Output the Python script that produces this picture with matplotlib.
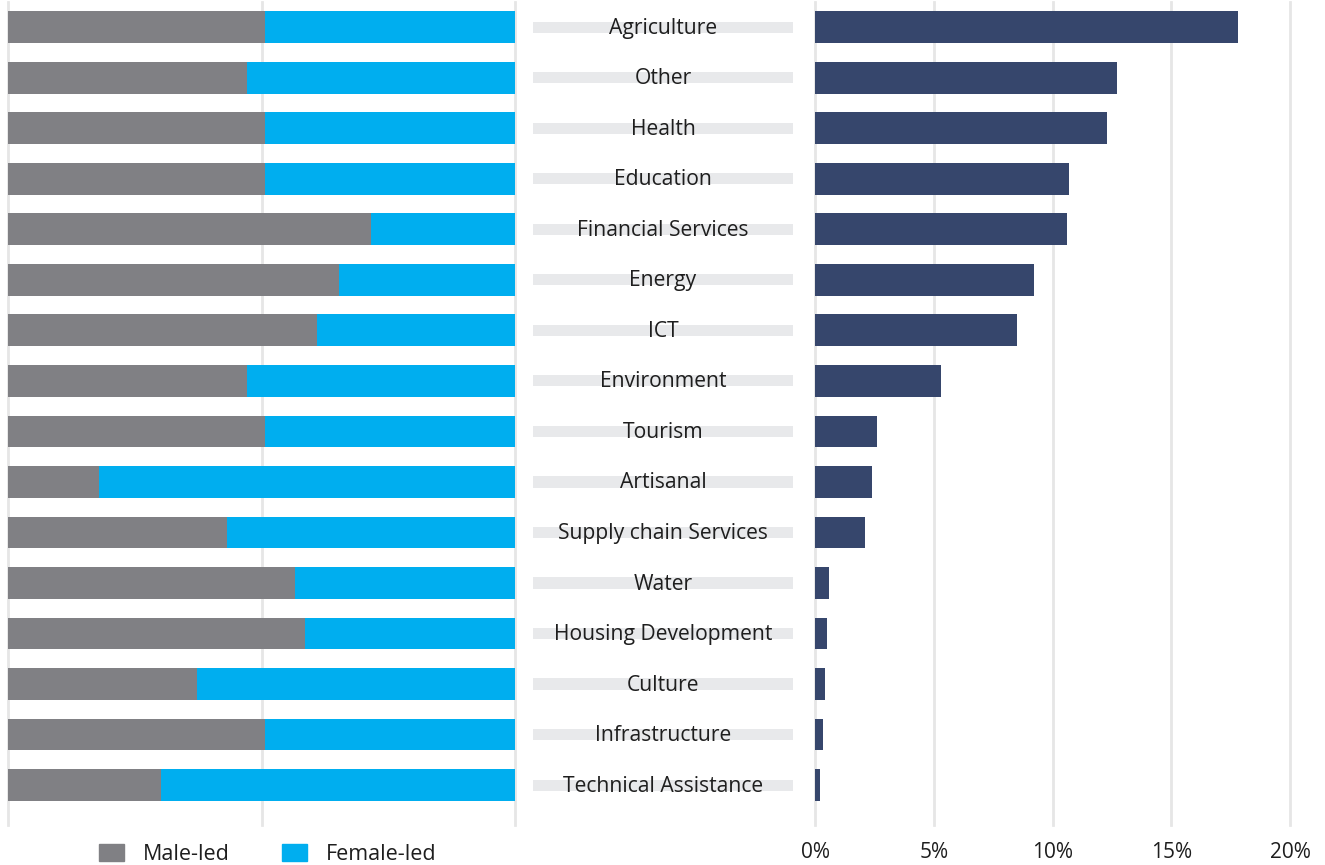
import numpy as np
import matplotlib.pyplot as plt
from matplotlib.patches import Patch

plt.rcParams['font.family'] = ['Open Sans', 'DejaVu Sans']

sectors = ['Agriculture', 'Other', 'Health', 'Education', 'Financial Services',
           'Energy', 'ICT', 'Environment', 'Tourism', 'Artisanal',
           'Supply chain Services', 'Water', 'Housing Development', 'Culture',
           'Infrastructure', 'Technical Assistance']
# share of male-led businesses per sector (%), female-led is the rest
male_share = [50.7, 47.1, 50.7, 50.7, 71.6, 65.3, 60.9, 47.1, 50.7, 17.9,
              43.2, 56.6, 58.6, 37.3, 50.7, 30.2]
# share of all businesses in each sector (%)
sector_share = [17.8, 12.7, 12.3, 10.7, 10.6, 9.2, 8.5, 5.3, 2.6, 2.4,
                2.1, 0.6, 0.5, 0.4, 0.35, 0.2]
share_ticks = [0, 5, 10, 15, 20]

male_share = np.array(male_share)
female_share = 100 - male_share

grey = '#808084'
blue = '#00aeef'
navy = '#36466c'
grid = '#e6e6e6'
txt = '#1e1e1e'

fig = plt.figure(figsize=(13.25, 8.65), dpi=100)
W, H = 1325, 865
bot = 40 / H
hgt = 823 / H
y = np.arange(len(sectors))
ylim = (15.79, -0.5)

# left: 100% stacked
axl = fig.add_axes([8 / W, bot, 507 / W, hgt])
axl.barh(y, male_share, height=0.63, color=grey, zorder=2)
axl.barh(y, female_share, left=male_share, height=0.63, color=blue, zorder=2)
axl.set_xlim(0, 100)
axl.set_ylim(*ylim)
for v in [0, 50, 100]:
    axl.axvline(v, color=grid, lw=2, zorder=1, clip_on=False)
axl.axis('off')

# middle: labels on a grey band
axm = fig.add_axes([533 / W, bot, 260 / W, hgt])
axm.barh(y, [1] * len(sectors), height=0.22, color='#e8e9eb')
for i, s in enumerate(sectors):
    axm.text(0.5, i + 0.02, s, ha='center', va='center', fontsize=15.2, color=txt)
axm.set_xlim(0, 1)
axm.set_ylim(*ylim)
axm.axis('off')

# right: sector share
axr = fig.add_axes([815 / W, bot, 475 / W, hgt])
axr.barh(y, sector_share, height=0.63, color=navy, zorder=2)
axr.set_xlim(0, 20)
axr.set_ylim(*ylim)
for v in share_ticks:
    axr.axvline(v, color=grid, lw=2, zorder=1, clip_on=False)
for s in axr.spines.values():
    s.set_visible(False)
axr.set_yticks([])
axr.set_xticks(share_ticks)
axr.set_xticklabels([f'{t}%' for t in share_ticks], fontsize=15, color=txt)
axr.tick_params(axis='x', length=0, pad=12)

handles = [Patch(color=grey, label='Male-led'), Patch(color=blue, label='Female-led')]
fig.legend(handles=handles, loc='center left', bbox_to_anchor=(88 / W, 11 / H), ncol=2,
           frameon=False, fontsize=15.5, handlelength=1.16, handleheight=0.84,
           columnspacing=2.4, handletextpad=0.9, borderpad=0, labelcolor=txt)

fig.savefig('out.png', dpi=100)
